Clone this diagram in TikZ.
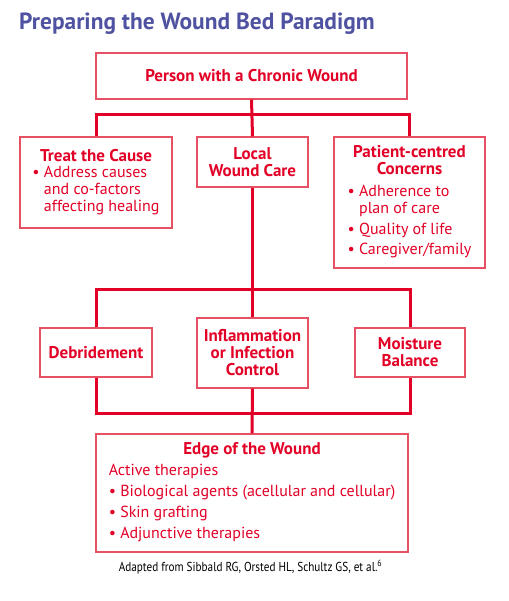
\documentclass[tikz,border=0pt]{standalone}
\usepackage{fontspec}
\setmainfont{PT Sans}
\newfontfamily\notefont[FakeStretch=0.86]{PT Sans}
\usetikzlibrary{positioning}
\definecolor{woundred}{RGB}{226,0,38}
\definecolor{boxred}{RGB}{232,80,100}
\definecolor{titleblue}{RGB}{78,82,160}
\newcommand{\bodysize}{\fontsize{16}{17}\selectfont}

\begin{document}
\begin{tikzpicture}[x=1pt,y=-1pt,
    box/.style={
% The shape:
rectangle,
% The size:
inner sep=0pt,
% The border:
draw=boxred, line width=1.2pt,
% The text:
text=woundred, align=center,
font=\fontsize{17}{17}\selectfont,
},
    wire/.style={
% The line:
draw=woundred, line width=3pt, line join=miter,
},
]
  \useasboundingbox (0,0) rectangle (508,601);
  \node[anchor=base west, text=titleblue, inner sep=0pt,
        font=\fontsize{23.4}{26}\selectfont\bfseries] (title) at (19,30)
        {Preparing the Wound Bed Paradigm};

  \node[box, minimum width=311, minimum height=46] (person) at (251.5,76)
        {\bfseries Person with a Chronic Wound};

  \node[box, minimum width=152, minimum height=91] (treat) at (96,182.5)
        {{\bfseries Treat the Cause}\\[-1pt]
         \bodysize\begin{tabular}[t]{@{}l@{}}
         \textbullet\ Address causes\\
         \hphantom{\textbullet\ }and co-factors\\
         \hphantom{\textbullet\ }affecting healing
         \end{tabular}};
  \node[box, minimum width=111, minimum height=50] (local) at (252.5,162)
        {\bfseries Local\\ \bfseries Wound Care};
  \node[box, minimum width=151, minimum height=131] (patient) at (409.5,202.5)
        {\bfseries Patient-centred\\ \bfseries Concerns\\[5pt]
         \bodysize\begin{tabular}[t]{@{}l@{}}
         \textbullet\ Adherence to\\
         \hphantom{\textbullet\ }plan of care\\[4pt]
         \textbullet\ Quality of life\\[3pt]
         \textbullet\ Caregiver/family
         \end{tabular}};

  \node[box, minimum width=112, minimum height=49] (debride) at (96,352.5)
        {\bfseries Debridement};
  \node[box, minimum width=111, minimum height=70] (inflam) at (252.5,353)
        {\bfseries Inflammation\\ \bfseries or Infection\\ \bfseries Control};
  \node[box, minimum width=110, minimum height=49] (moist) at (410,352.5)
        {\bfseries Moisture\\ \bfseries Balance};

  \node[box, minimum width=312, minimum height=118] (edge) at (252,493)
        {{\bfseries Edge of the Wound}\\[4pt]
         \bodysize\begin{tabular}[t]{@{}l@{}}
         Active therapies\\[4pt]
         \textbullet\ Biological agents (acellular and cellular)\\[3.5pt]
         \textbullet\ Skin grafting\\[4pt]
         \textbullet\ Adjunctive therapies
         \end{tabular}};

  \node[anchor=base, inner sep=0pt, font=\notefont\fontsize{13}{15}\selectfont]
        (source) at (250.5,571)
        {Adapted from Sibbald RG, Orsted HL, Schultz GS, et al.\textsuperscript{6}};

  % top level
  \draw[wire] (person.south) -- (local.north);
  \draw[wire] (treat.north) -- ++(0,-22) -| (patient.north);
  % local wound care
  \draw[wire] (local.south) -- (inflam.north);
  \draw[wire] (debride.north) -- ++(0,-38) -| (moist.north);
  \draw[wire] (debride.south) -- ++(0,36) -| (moist.south);
  \draw[wire] (inflam.south) -- (edge.north);

\end{tikzpicture}
\end{document}
